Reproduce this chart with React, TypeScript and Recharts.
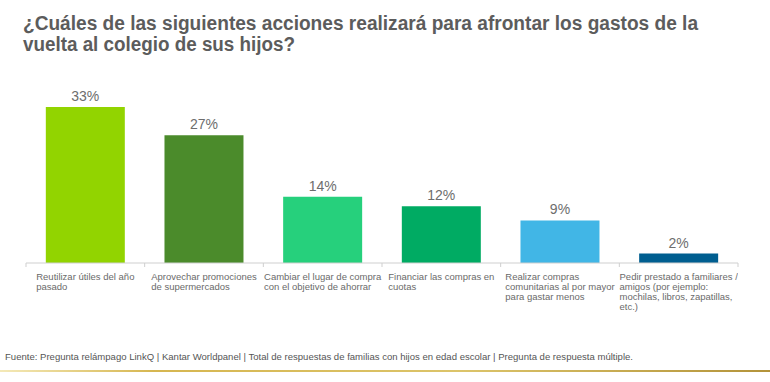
import React from "react";
import { BarChart, Bar, XAxis, YAxis, Cell, LabelList } from "recharts";

const titleLines = [
  "¿Cuáles de las siguientes acciones realizará para afrontar los gastos de la",
  "vuelta al colegio de sus hijos?",
];
const footerText =
  "Fuente: Pregunta relámpago LinkQ | Kantar Worldpanel | Total de respuestas de familias con hijos en edad escolar | Pregunta de respuesta múltiple.";

const categories = [
  "Reutilizar útiles del año\npasado",
  "Aprovechar promociones\nde supermercados",
  "Cambiar el lugar de compra\ncon el objetivo de ahorrar",
  "Financiar las compras en\ncuotas",
  "Realizar compras\ncomunitarias al por mayor\npara gastar menos",
  "Pedir prestado a familiares /\namigos (por ejemplo:\nmochilas, libros, zapatillas,\netc.)",
];
const values = [33, 27, 14, 12, 9, 2];
const colors = ["#92d400", "#4b8b2b", "#26d07c", "#00ab63", "#41b6e6", "#005e90"];

const data = categories.map((c, i) => ({ name: c, value: values[i] }));

const FONT = "'Liberation Sans', Arial, sans-serif";
const N = categories.length;

const CategoryTick = (props: any) => {
  const { x, y, payload, index } = props;
  const half =
    payload && typeof payload.offset === "number" && payload.offset > 0
      ? payload.offset
      : (770 - 26 - 32) / N / 2;
  const left = x - half;
  const lines = String(payload.value).split("\n");
  return (
    <g>
      <line x1={left} y1={y} x2={left} y2={y + 4} stroke="#cfcfcf" strokeWidth={1} />
      {index === N - 1 && (
        <line x1={x + half} y1={y} x2={x + half} y2={y + 4} stroke="#cfcfcf" strokeWidth={1} />
      )}
      <foreignObject x={left} y={y + 9} width={half * 2} height={60}>
        <div
          style={{
            display: "flex",
            justifyContent: "center",
            width: "100%",
          }}
        >
          <div
            style={{
              textAlign: "left",
              fontFamily: FONT,
              fontSize: "9.5px",
              lineHeight: "10px",
              color: "#6a6a6a",
              whiteSpace: "nowrap",
            }}
          >
            {lines.map((l, i) => (
              <div key={i}>{l}</div>
            ))}
          </div>
        </div>
      </foreignObject>
    </g>
  );
};

export default function App() {
  return (
    <div style={{ position: "absolute", left: 0, top: 0, width: 770, height: 382, background: "#fff" }}>
      <BarChart
        width={770}
        height={382}
        data={data}
        margin={{ top: 107, right: 32, bottom: 59, left: 26 }}
        barCategoryGap="16.7%"
      >
        <YAxis hide domain={[0, 33]} />
        <XAxis
          dataKey="name"
          height={60}
          interval={0}
          tickLine={false}
          tickSize={0}
          tickMargin={0}
          axisLine={{ stroke: "#cfcfcf", strokeWidth: 1 }}
          tick={<CategoryTick />}
        />
        <Bar dataKey="value" isAnimationActive={false}>
          {data.map((d, i) => (
            <Cell key={i} fill={colors[i]} />
          ))}
          <LabelList
            dataKey="value"
            position="top"
            offset={6}
            formatter={(v: any) => `${v}%`}
            style={{ fontFamily: FONT, fontSize: 14, fill: "#6d6d6d" }}
          />
        </Bar>
      </BarChart>
      <svg
        width={770}
        height={382}
        style={{ position: "absolute", left: 0, top: 0, pointerEvents: "none" }}
      >
        <defs>
          <linearGradient id="gold" x1="0" y1="0" x2="1" y2="0">
            <stop offset="0%" stopColor="#f4e9b8" />
            <stop offset="20%" stopColor="#d6b650" />
            <stop offset="60%" stopColor="#dcc46a" />
            <stop offset="100%" stopColor="#b3933a" />
          </linearGradient>
        </defs>
        <text x={23} y={30} textLength={675} lengthAdjust="spacingAndGlyphs" style={{ fontFamily: FONT, fontSize: 20, fontWeight: 700, fill: "#5c5c5c" }}>
          {titleLines[0]}
        </text>
        <text x={23} y={51} textLength={272} lengthAdjust="spacingAndGlyphs" style={{ fontFamily: FONT, fontSize: 20, fontWeight: 700, fill: "#5c5c5c" }}>
          {titleLines[1]}
        </text>
        <text x={5} y={360} textLength={628} lengthAdjust="spacingAndGlyphs" style={{ fontFamily: FONT, fontSize: 9.5, fill: "#555" }}>
          {footerText}
        </text>
        <rect x={0} y={370} width={770} height={2} fill="url(#gold)" />
      </svg>
    </div>
  );
}
